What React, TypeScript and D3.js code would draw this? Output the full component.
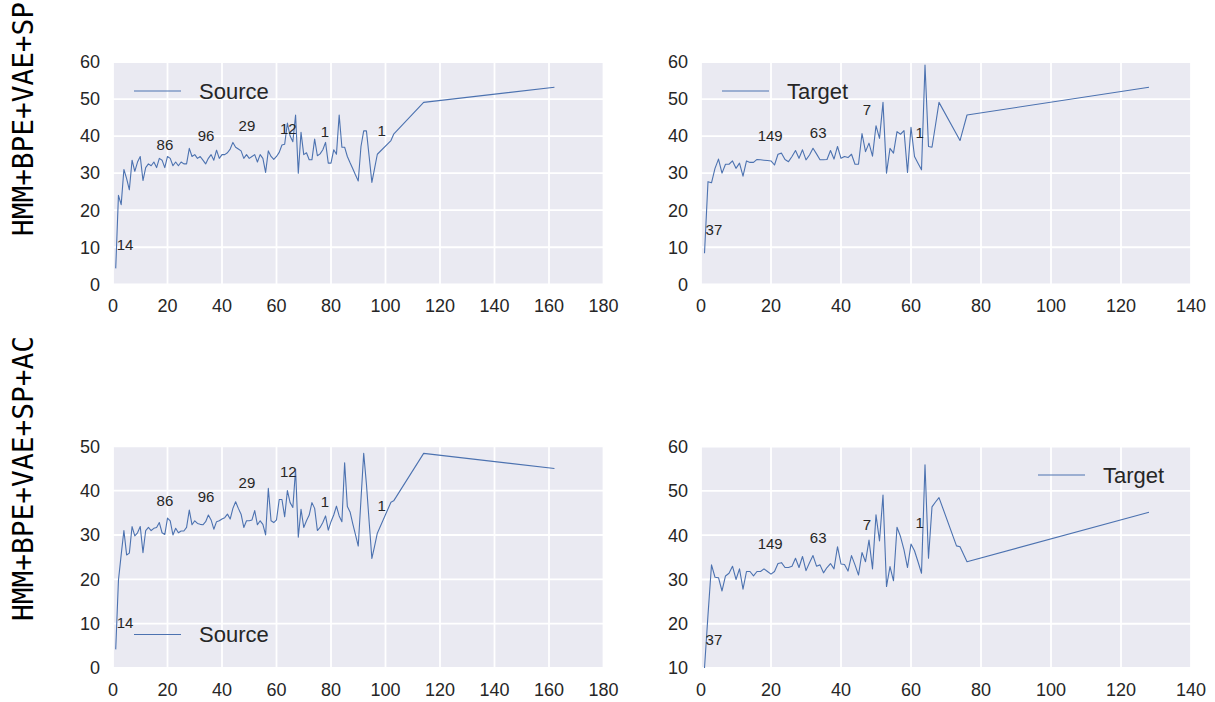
import React from "react";
import * as d3 from "d3";

// top row: HMM+BPE+VAE+SP
const srcTopHead = [
  4.3, 24, 21.5, 31, 28.5, 25.5, 33.5, 30.5, 33, 34.5, 28, 31.5, 32.5, 32, 33, 31.5, 34, 33.5, 31.5, 34.5,
  34, 32, 33, 32, 33, 32.5, 32.5, 36.7, 34.5, 35, 34, 34.5, 33.5, 32.5, 34, 35, 33.5, 36.2, 34, 35,
  35, 35.5, 36.5, 38.3, 37, 36.5, 36, 34, 35, 34, 34.5, 35, 33, 35, 34, 30.2, 36, 34.5, 33.7, 34.5,
  35.6, 37.6, 37.8, 43.5, 40, 38.5, 45.7, 30, 41, 35, 35.5, 33.6, 33.6, 39.2, 34.7, 35.2, 36.3, 38.3, 32.7, 32.7,
  36.3, 35.1, 45.7, 37, 37, 34.5, 32.8, 31.2, 29.5, 27.9, 37.2, 41.4, 41.4, 34.5, 27.5, 31.3, 35.1,
];
const srcTopTailX = [102, 103, 114, 162];
const srcTopTailY = [38.8, 40.5, 49.1, 53.2];

const tgtTopHead = [
  8.4, 27.7, 27.4, 31.3, 33.8, 30, 32.4, 32.4, 33.3, 31.3, 32.7, 29.2, 33.3, 32.9, 32.9, 33.7, 33.6, 33.5, 33.4, 33.3,
  32.2, 35.1, 35.4, 33.7, 33.1, 34.5, 36.1, 34, 36.3, 33.6, 34.9, 36.7, 35.2, 33.6, 33.6, 33.7, 36.1, 33.8, 37.2, 34,
  34.5, 34.2, 35.1, 32.4, 32.4, 40.7, 35.8, 38.1, 34.6, 42.8, 39.4, 49.1, 30, 36.7, 35.4, 41.2, 40.5, 41.5, 30.2, 42.4,
  34.5, 32.7, 30.9, 59.2, 37.2, 37, 43, 49.1,
];
const tgtTopTailX = [74, 76, 128];
const tgtTopTailY = [38.8, 45.7, 53.2];

// bottom row: HMM+BPE+VAE+SP+AC
const srcBotHead = [
  4.2, 19.8, 25.5, 31, 25.5, 25.9, 31.9, 29.8, 30.5, 31.9, 26, 31, 31.7, 31, 31.5, 31.7, 32.8, 30.5, 30.1, 33.8,
  33.2, 30, 31.5, 30.5, 30.9, 30.9, 31.7, 35.6, 32.3, 33.2, 32.6, 32.4, 32.3, 33, 34.5, 33.4, 31.3, 33, 33.2, 33.6,
  33.9, 34.7, 33.6, 36, 37.5, 36, 34.7, 31.7, 33.2, 33.2, 33.4, 35.5, 32.3, 33.2, 32.4, 30, 40.5, 33.2, 32.8, 33.4,
  38, 38, 34.1, 40, 37.3, 36.2, 44.8, 29.5, 35.8, 31.7, 33.2, 34.5, 37.3, 36, 31, 31.7, 32.8, 34.3, 31.1, 33,
  34.5, 36.5, 34.3, 33, 46.3, 36.4, 35.2, 32.5, 30, 27.5, 38, 48.4, 41.5, 33, 24.7, 27.5, 30.4,
];
const srcBotTailX = [102, 103, 114, 162];
const srcBotTailY = [37.4, 37.7, 48.4, 45];

const tgtBotHead = [
  10, 22, 33.3, 30.5, 30.4, 27.4, 30.8, 31.4, 33, 30, 32.4, 27.8, 31.8, 31.8, 30.8, 31.8, 31.8, 32.4, 31.8, 31.2,
  31.8, 33.6, 33.8, 32.7, 32.7, 33, 34.8, 32.7, 35.2, 32, 33.8, 35.4, 33, 33.3, 31.5, 32.7, 33.6, 32.4, 37.4, 33.5,
  33.4, 31.9, 35.4, 33.3, 31, 36.1, 34, 38.9, 32.4, 44.6, 38.7, 49.1, 28.4, 32.9, 29.7, 41.8, 39.7, 36.7, 32.7, 38,
  36.5, 34, 31.4, 55.9, 34.8, 46.4, 47.5, 48.5,
];
const tgtBotTailX = [73, 74, 76, 128];
const tgtBotTailY = [37.6, 37.4, 34, 45.2];

// annotations
const srcNotes = ["14", "86", "96", "29", "12", "1", "1"];
const srcNoteX = [1.35, 16, 31.1, 46.1, 61.3, 76.2, 97.1];
const srcNoteTopY = [9.3, 36.2, 38.7, 41.3, 40.6, 39.8, 40];
const srcNoteBotY = [9.1, 36.6, 37.5, 40.5, 43, 36.4, 35.4];
const tgtNotes = ["37", "149", "63", "7", "1"];
const tgtNoteX = [1.3, 16.2, 31.1, 46.2, 61.3];
const tgtNoteTopY = [13.3, 38.7, 39.4, 45.7, 39.4];
const tgtNoteBotY = [15.2, 36.8, 38.2, 41.2, 41.6];

const srcXTicks = [0, 20, 40, 60, 80, 100, 120, 140, 160, 180];
const tgtXTicks = [0, 20, 40, 60, 80, 100, 120, 140];
const yTicks60 = [0, 10, 20, 30, 40, 50, 60];
const yTicks50 = [0, 10, 20, 30, 40, 50];
const yTicks1060 = [10, 20, 30, 40, 50, 60];

const rowLabels = ["HMM+BPE+VAE+SP", "HMM+BPE+VAE+SP+AC"];

const toPoints = (head: number[], tailX: number[], tailY: number[]) => {
  const xs = d3.range(1, head.length + 1).concat(tailX);
  const ys = head.concat(tailY);
  return xs.map((x, i) => [x, ys[i]] as [number, number]);
};

const FONT = "'Liberation Sans', Arial, sans-serif";
const INK = "#262626";
const LINE = "#4C72B0";

interface PanelProps {
  left: number;
  right: number;
  top: number;
  bottom: number;
  xMax: number;
  yDomain: [number, number];
  xTicks: number[];
  yTicks: number[];
  points: [number, number][];
  notes: string[];
  noteX: number[];
  noteY: number[];
  legend: string;
  legendX: number;
  legendY: number;
}

const Panel: React.FC<PanelProps> = (p) => {
  const x = d3.scaleLinear().domain([0, p.xMax]).range([p.left, p.right]);
  const y = d3.scaleLinear().domain(p.yDomain).range([p.bottom, p.top]);
  const line = d3
    .line<[number, number]>()
    .x((d) => x(d[0]))
    .y((d) => y(d[1]));

  return (
    <g>
      <rect x={p.left} y={p.top} width={p.right - p.left} height={p.bottom - p.top} fill="#EAEAF2" />
      {p.xTicks.map((t) => (
        <line key={"gx" + t} x1={x(t)} x2={x(t)} y1={p.top} y2={p.bottom} stroke="#fff" strokeWidth={1.8} />
      ))}
      {p.yTicks.map((t) => (
        <line key={"gy" + t} x1={p.left} x2={p.right} y1={y(t)} y2={y(t)} stroke="#fff" strokeWidth={1.8} />
      ))}
      {p.xTicks.map((t) => (
        <text key={"tx" + t} x={x(t)} y={p.bottom + 28} textAnchor="middle" fontSize={18} fill={INK} fontFamily={FONT}>
          {t}
        </text>
      ))}
      {p.yTicks.map((t) => (
        <text
          key={"ty" + t}
          x={p.left - 13}
          y={y(t)}
          dy="0.35em"
          textAnchor="end"
          fontSize={18}
          fill={INK}
          fontFamily={FONT}
        >
          {t}
        </text>
      ))}
      <path d={line(p.points) || ""} fill="none" stroke={LINE} strokeWidth={1.1} strokeLinejoin="round" />
      {p.notes.map((n, i) => (
        <text key={"n" + i} x={x(p.noteX[i])} y={y(p.noteY[i])} fontSize={15} fill={INK} fontFamily={FONT}>
          {n}
        </text>
      ))}
      <line x1={p.legendX} x2={p.legendX + 47} y1={p.legendY} y2={p.legendY} stroke={LINE} strokeWidth={1.1} />
      <text
        x={p.legendX + 65}
        y={p.legendY}
        dominantBaseline="central"
        fontSize={22}
        fill={INK}
        fontFamily={FONT}
      >
        {p.legend}
      </text>
    </g>
  );
};

export default function App() {
  return (
    <svg
      width={1215}
      height={702}
      style={{ position: "absolute", left: 0, top: 0, background: "#fff" }}
    >
      <Panel
        left={113}
        right={603.5}
        top={62}
        bottom={284.3}
        xMax={180}
        yDomain={[0, 60]}
        xTicks={srcXTicks}
        yTicks={yTicks60}
        points={toPoints(srcTopHead, srcTopTailX, srcTopTailY)}
        notes={srcNotes}
        noteX={srcNoteX}
        noteY={srcNoteTopY}
        legend="Source"
        legendX={134}
        legendY={91}
      />
      <Panel
        left={701}
        right={1191}
        top={62}
        bottom={284.3}
        xMax={140}
        yDomain={[0, 60]}
        xTicks={tgtXTicks}
        yTicks={yTicks60}
        points={toPoints(tgtTopHead, tgtTopTailX, tgtTopTailY)}
        notes={tgtNotes}
        noteX={tgtNoteX}
        noteY={tgtNoteTopY}
        legend="Target"
        legendX={722}
        legendY={91}
      />
      <Panel
        left={113}
        right={603.5}
        top={446.3}
        bottom={668}
        xMax={180}
        yDomain={[0, 50]}
        xTicks={srcXTicks}
        yTicks={yTicks50}
        points={toPoints(srcBotHead, srcBotTailX, srcBotTailY)}
        notes={srcNotes}
        noteX={srcNoteX}
        noteY={srcNoteBotY}
        legend="Source"
        legendX={134}
        legendY={634.5}
      />
      <Panel
        left={701}
        right={1191}
        top={446.7}
        bottom={668}
        xMax={140}
        yDomain={[10, 60]}
        xTicks={tgtXTicks}
        yTicks={yTicks1060}
        points={toPoints(tgtBotHead, tgtBotTailX, tgtBotTailY)}
        notes={tgtNotes}
        noteX={tgtNoteX}
        noteY={tgtNoteBotY}
        legend="Target"
        legendX={1038}
        legendY={475}
      />
      {rowLabels.map((l, i) => (
        <text
          key={l}
          transform={`translate(33,${i === 0 ? 236 : 621}) rotate(-90)`}
          fontSize={28}
          fill="#000"
          fontFamily="'DejaVu Sans Mono', monospace"
          textLength={i === 0 ? 234 : 285}
          lengthAdjust="spacingAndGlyphs"
        >
          {l}
        </text>
      ))}
    </svg>
  );
}
